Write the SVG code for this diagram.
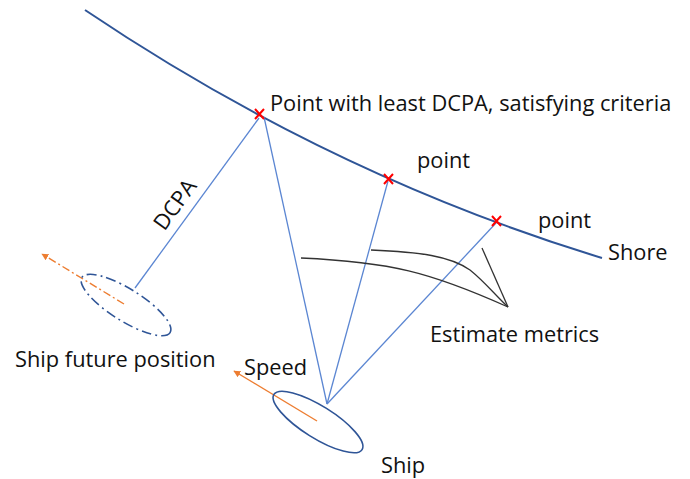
<svg xmlns="http://www.w3.org/2000/svg" width="690" height="479" viewBox="0 0 690 479">
<defs>
<style>
.lbl{font-family:"Open Sans",Lato,"Liberation Sans",sans-serif;font-size:21.8px;fill:#111}
.thin{stroke:#5B86D2;stroke-width:1.3;fill:none}
.xm{stroke:#FF0000;stroke-width:2;fill:none}
.metric{stroke:#333;stroke-width:1.3;fill:none}
.orange{stroke:#ED7D31;stroke-width:1.4;fill:none}
</style>
<marker id="ah" viewBox="0 0 10 10" refX="9" refY="5" markerWidth="7" markerHeight="7" orient="auto" markerUnits="userSpaceOnUse">
<path d="M0,0 L10,5 L0,10 z" fill="#ED7D31"/>
</marker>
</defs>
<rect width="690" height="479" fill="#fff"/>
<g id="connectors">
<path id="shore-line" d="M85,10 Q330,175 602,258" stroke="#2F5597" stroke-width="2" fill="none"/>
<line class="thin" x1="264" y1="117" x2="327" y2="404"/>
<line class="thin" x1="388" y1="181" x2="327" y2="404"/>
<line class="thin" x1="496" y1="223" x2="327" y2="404"/>
<line class="thin" x1="259" y1="118" x2="135" y2="288"/>
<path class="metric" d="M301,258 C390,262 430,272 508,307"/>
<path class="metric" d="M371,250 C420,252 450,256 470,270 C485,282 495,295 508,307"/>
<line class="metric" x1="482" y1="248" x2="508" y2="307"/>
<line class="orange" x1="317" y1="421" x2="234" y2="371" marker-end="url(#ah)"/>
<line class="orange" x1="124" y1="304" x2="42" y2="254" stroke-dasharray="8,3,2,3" marker-end="url(#ah)"/>
</g>
<g id="point1">
<path class="xm" d="M255,109 L264,119 M264,109 L255,119"/>
<text class="lbl" x="270" y="111">Point with least DCPA, satisfying criteria</text>
</g>
<g id="point2">
<path class="xm" d="M384,174 L393,184 M393,174 L384,184"/>
<text class="lbl" x="417" y="168">point</text>
</g>
<g id="point3">
<path class="xm" d="M492,216 L501,226 M501,216 L492,226"/>
<text class="lbl" x="538" y="228">point</text>
</g>
<g id="shore">
<text class="lbl" x="608" y="260">Shore</text>
</g>
<g id="dcpa">
<text class="lbl" x="0" y="0" text-anchor="middle" transform="translate(181,209) rotate(-54)">DCPA</text>
</g>
<g id="estimate">
<text class="lbl" x="430" y="342">Estimate metrics</text>
</g>
<g id="ship">
<ellipse cx="318" cy="422" rx="52" ry="16" transform="rotate(32 318 422)" fill="none" stroke="#2F5597" stroke-width="1.6"/>
<text class="lbl" x="381" y="473">Ship</text>
</g>
<g id="speed">
<text class="lbl" x="244" y="375">Speed</text>
</g>
<g id="future">
<ellipse cx="126" cy="305" rx="52" ry="16" transform="rotate(32 126 305)" fill="none" stroke="#2F5597" stroke-width="1.6" stroke-dasharray="10,4,2,4"/>
<text class="lbl" x="15" y="367">Ship future position</text>
</g>
</svg>
